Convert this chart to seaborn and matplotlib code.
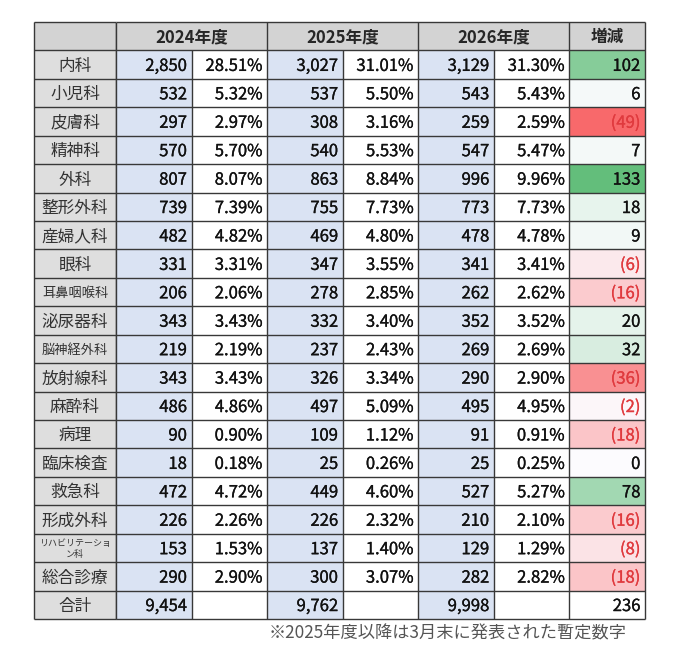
import matplotlib
matplotlib.use("Agg")
import matplotlib.pyplot as plt
import matplotlib.patheffects as pe
from matplotlib.colors import ListedColormap, LinearSegmentedColormap
import numpy as np
import pandas as pd
import seaborn as sns

# table data
depts = ["内科", "小児科", "皮膚科", "精神科", "外科", "整形外科", "産婦人科", "眼科",
         "耳鼻咽喉科", "泌尿器科", "脳神経外科", "放射線科", "麻酔科", "病理", "臨床検査",
         "救急科", "形成外科", "リハビリテーション科", "総合診療"]
years = ["2024年度", "2025年度", "2026年度"]
n2024 = [2850, 532, 297, 570, 807, 739, 482, 331, 206, 343, 219, 343, 486, 90, 18, 472, 226, 153, 290]
p2024 = [28.51, 5.32, 2.97, 5.70, 8.07, 7.39, 4.82, 3.31, 2.06, 3.43, 2.19, 3.43, 4.86, 0.90, 0.18, 4.72, 2.26, 1.53, 2.90]
n2025 = [3027, 537, 308, 540, 863, 755, 469, 347, 278, 332, 237, 326, 497, 109, 25, 449, 226, 137, 300]
p2025 = [31.01, 5.50, 3.16, 5.53, 8.84, 7.73, 4.80, 3.55, 2.85, 3.40, 2.43, 3.34, 5.09, 1.12, 0.26, 4.60, 2.32, 1.40, 3.07]
n2026 = [3129, 543, 259, 547, 996, 773, 478, 341, 262, 352, 269, 290, 495, 91, 25, 527, 210, 129, 282]
p2026 = [31.30, 5.43, 2.59, 5.47, 9.96, 7.73, 4.78, 3.41, 2.62, 3.52, 2.69, 2.90, 4.95, 0.91, 0.25, 5.27, 2.10, 1.29, 2.82]
diff = [102, 6, -49, 7, 133, 18, 9, -6, -16, 20, 32, -36, -2, -18, 0, 78, -16, -8, -18]
totals = [9454, 9762, 9998]
total_diff = 236
total_label = "合計"
diff_label = "増減"
note = "※2025年度以降は3月末に発表された暫定数字"

sns.set_theme(style="white")
plt.rcParams["font.family"] = ["Noto Sans CJK JP", "DejaVu Sans"]

W, H = 680, 659
fig = plt.figure(figsize=(W / 100, H / 100), dpi=100)
fig.patch.set_facecolor("white")

top, bottom = 22, 619
x_left, x_name, x_right = 34, 116, 645
ax_name = fig.add_axes([x_left / W, (H - bottom) / H, (x_name - x_left) / W, (bottom - top) / H])
ax = fig.add_axes([x_name / W, (H - bottom) / H, (x_right - x_name) / W, (bottom - top) / H])

nrows = len(depts) + 2  # header + depts + total
line_c = "#383838"
lw = 1.0

# --- name column ---
name_codes = pd.DataFrame([0] + [1] * (nrows - 1))
sns.heatmap(name_codes, ax=ax_name, cmap=ListedColormap(["#d3d3d3", "#dedede"]),
            vmin=0, vmax=1, cbar=False, xticklabels=False, yticklabels=False)

# --- main columns: background codes 0 header, 1 count, 2 pct/white ---
codes = np.full((nrows, 7), 2)
codes[0, :] = 0
codes[1:, [0, 2, 4]] = 1
sns.heatmap(pd.DataFrame(codes), ax=ax, cmap=ListedColormap(["#d3d3d3", "#dae3f3", "#ffffff"]),
            vmin=0, vmax=2, cbar=False, xticklabels=False, yticklabels=False)

# --- 増減 column colour scale (red - white - green) ---
dvals = np.full((nrows, 7), np.nan)
dvals[1:nrows - 1, 6] = diff
dmin, dmax = min(diff), max(diff)
scale = LinearSegmentedColormap.from_list(
    "rwg", [(0, "#f8696b"), (-dmin / (dmax - dmin), "#fcfcff"), (1, "#63be7b")])
sns.heatmap(pd.DataFrame(dvals), ax=ax, mask=np.isnan(dvals), cmap=scale,
            vmin=dmin, vmax=dmax, cbar=False, xticklabels=False, yticklabels=False)

# --- grid lines ---
for a, ncol in [(ax_name, 1), (ax, 7)]:
    a.hlines(np.arange(nrows + 1), 0, ncol, color=line_c, lw=lw, clip_on=False)
for x in [0, 1]:
    ax_name.vlines(x, 0, nrows, color=line_c, lw=lw, clip_on=False)
for x in range(8):
    y0 = 0 if x in (0, 2, 4, 6, 7) else 1
    ax.vlines(x, y0, nrows, color=line_c, lw=lw, clip_on=False)

# baseline offset so glyphs look centred in a row
fs = 12
bl = 0.22
txt = "#111111"


def heavy(color):
    # a touch thicker, the source font is a little heavier than regular
    return [pe.withStroke(linewidth=0.2, foreground=color)]


# --- header text ---
for k, yr in enumerate(years):
    ax.text(2 * k + 1, 0.5 + bl, yr, ha="center", va="baseline", fontsize=fs, fontweight="bold")
ax.text(6.5, 0.5 + bl, diff_label, ha="center", va="baseline", fontsize=fs, fontweight="bold")

# --- names ---
for i, d in enumerate(depts + [total_label]):
    y = i + 1.5
    if len(d) > 6:
        ax_name.text(0.5, y + 0.03, d[:8] + "\n" + d[8:], ha="center", va="center",
                     fontsize=6.5, linespacing=1.35, color="#333333")
    elif len(d) == 5:
        ax_name.text(0.5, y + 0.17, d, ha="center", va="baseline", fontsize=9.5, color="#333333")
    else:
        ax_name.text(0.5, y + bl, d, ha="center", va="baseline", fontsize=fs, color="#333333")

# --- numbers ---
pad = 0.06
cols = [(n2024, p2024), (n2025, p2025), (n2026, p2026)]
for i in range(len(depts)):
    y = i + 1.5 + bl
    for k, (nv, pv) in enumerate(cols):
        ax.text(2 * k + 1 - pad, y, f"{nv[i]:,}", ha="right", va="baseline", fontsize=fs,
                color=txt, path_effects=heavy(txt))
        ax.text(2 * k + 2 - pad, y, f"{pv[i]:.2f}%", ha="right", va="baseline", fontsize=fs,
                color=txt, path_effects=heavy(txt))
    v = diff[i]
    if v < 0:
        ax.text(7 - pad, y, f"({-v})", ha="right", va="baseline", fontsize=fs,
                color="#e03a3e", path_effects=heavy("#e03a3e"))
    else:
        ax.text(7 - pad, y, f"{v}", ha="right", va="baseline", fontsize=fs,
                color=txt, path_effects=heavy(txt))

y = nrows - 0.5 + bl
for k, t in enumerate(totals):
    ax.text(2 * k + 1 - pad, y, f"{t:,}", ha="right", va="baseline", fontsize=fs,
            color=txt, path_effects=heavy(txt))
ax.text(7 - pad, y, f"{total_diff}", ha="right", va="baseline", fontsize=fs,
        color=txt, path_effects=heavy(txt))

fig.text(627 / W, 1 - 633 / H, note, ha="right", va="center", fontsize=12.4, color="#555555")

fig.savefig("out.png", dpi=100, facecolor="white")
